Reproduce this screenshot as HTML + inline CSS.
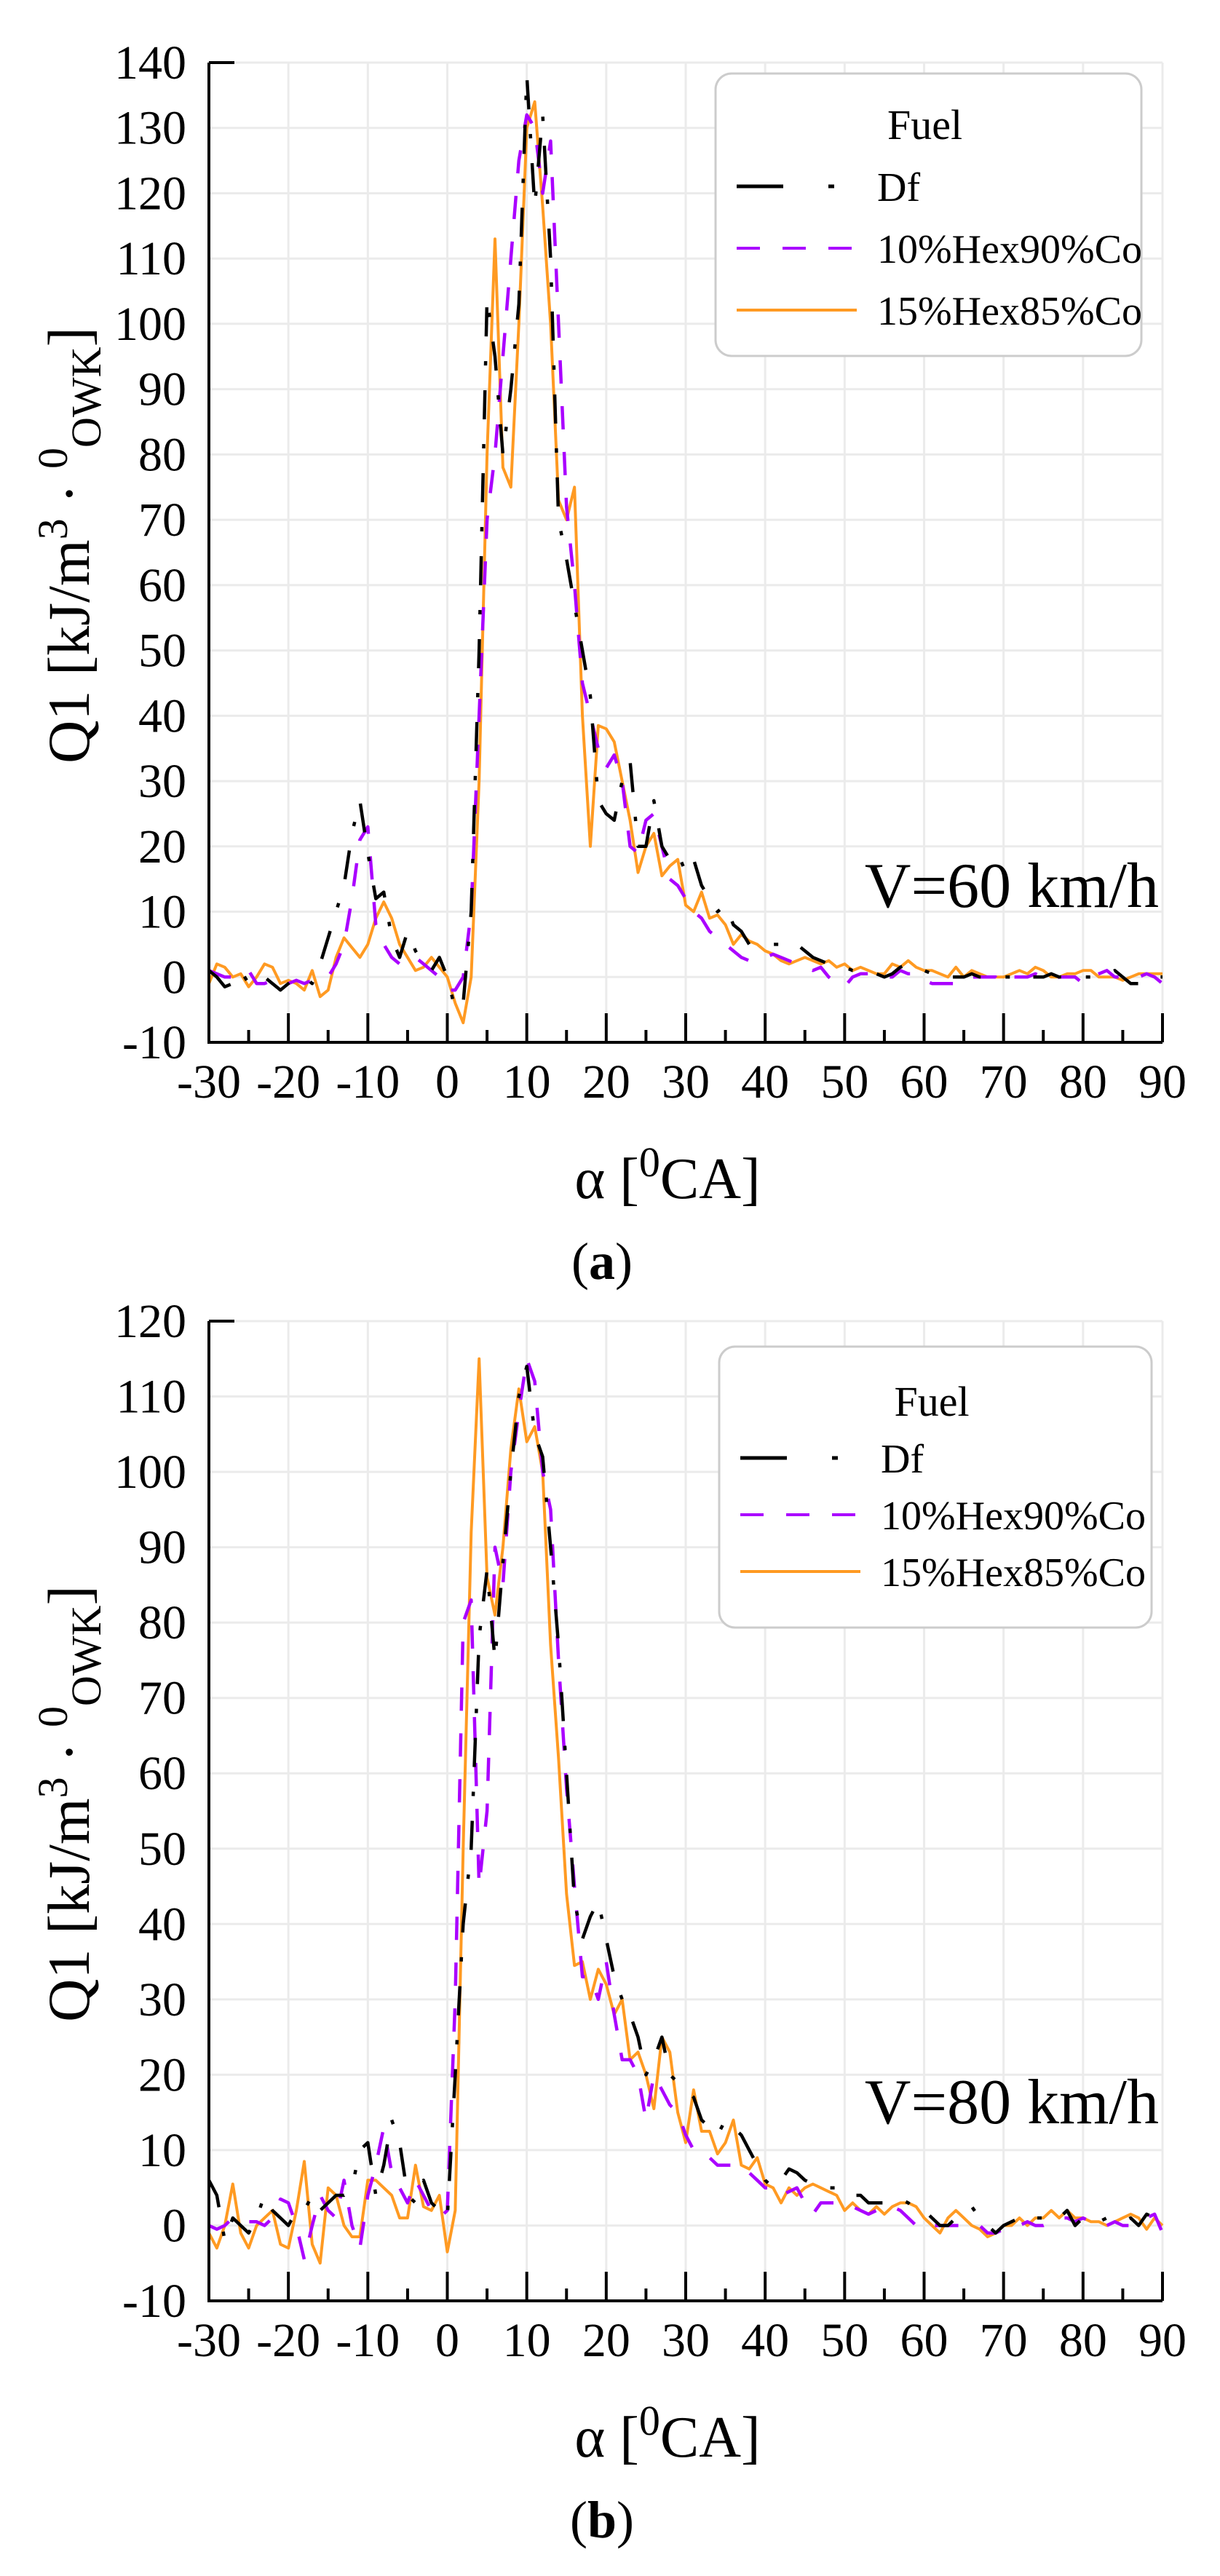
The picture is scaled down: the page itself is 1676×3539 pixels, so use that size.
<!DOCTYPE html>
<html><head><meta charset="utf-8"><style>
html,body{margin:0;padding:0;background:#fff;}
svg{display:block;}
text{font-family:"Liberation Serif",serif;}
</style></head><body>
<svg id="s" width="1676" height="3539" viewBox="0 0 1676 3539" xmlns="http://www.w3.org/2000/svg"></svg>
<script>
const NS="http://www.w3.org/2000/svg";
const S=document.getElementById('s');
function el(t,a,txt){const e=document.createElementNS(NS,t);if(t==='text')e.setAttribute('font-family','Liberation Serif, serif');for(const k in a)e.setAttribute(k,a[k]);if(txt!==undefined)e.textContent=txt;S.appendChild(e);return e;}
function arr(start,vals){return vals.map((v,i)=>[start+i,v]).filter(p=>p[0]<=90);}
const A={
bk:arr(-30,[1,0,-1.5,-1,1,-1,-1,0,-1,-2,-1,0,0,-1,2,6,10,14,22,27,19,12,13,6,3,7,4,2,1,3,0,-5,-4,10,50,104,95,80,90,103,138,118,132,110,70,64,57,50,43,27,25,24,30,33,20,20,27,20,18,19,16,18,14,12,10,11,8,7,5,5,5,5,5,5.5,5,4,3,2.5,2,2,1.5,1,1,0.5,0.5,0,0.5,1.5,2,1.5,1,0.5,0.5,0,0,0,0.5,0,0,0,0,0,0.5,0,0,0,0.5,0,0,0,0,0,0,0.5,1,0,-1,-1,-1,0,0,0.5,0]),
pu:arr(-30,[1,0.5,0,0,0,1,-1,-1,-0.5,-1,-1,-0.5,-1,-0.5,0,0,2,5,12,21,23,8,5,3,2,3,3,2,1,0,-2,-2,0,10,40,70,80,95,110,125,132,130,120,128,100,72,60,45,40,35,32,34,30,20,19,24,25,20,15,14,12,10,9,7,6,5,4,3,2.5,3,3,3.5,3,2.5,2,1.5,1,1.5,0,-1,-1.5,0,0.5,0.5,0,0,0,1,0.5,0.5,-0.5,-1,-1,-1,-1,0,0,0,0,0,-1,0,0,0,0.5,0,-0.5,0,0,0,-1,0,0.5,1,0,0,0,0,0.5,0,-1]),
or:arr(-30,[-1,2,1.5,0,0.5,-1.5,0,2,1.5,-1,-0.5,-1,-2,1,-3,-2,3,6,4.5,3,5,9,11.5,9,5,3,1,1.5,3,1.5,0,-4,-7,0,30,80,113,78,75,100,130,134,118,100,73,70,75,40,20,38.5,38,36,30,24,16,20,22,15.5,17,18,11,10,13,9,9.5,8,5,6.5,5.5,5,4,3.5,2.5,2,2.5,3,2.5,2,2.5,1.5,2,1,1.5,1,0.5,0.5,2,1.5,2.5,1.5,1,1,0.5,0,1.5,0,1,0.5,0,0,0,0.5,1,0.5,1.5,1,0,0,0.5,0.5,1,1,0,0,0,-0.5,0,0.5,0.5,0.5,0.5])
};
const B={
bk:arr(-30,[6,4,-2,1,0,-1,1,4,2,1,0,2,2,4,2,3,4,4,5,10,11,4,8,14,11,4,3,6,3,2,1,20,40,50,78,87,75,88,100,110,114,105,102,90,77,60,43,38,41,43,38,33,30,28,25,20,22,25,20,19,18,17,14,13,12,14,13,12,10,8,6,5,6,7.5,7,6,5.5,5,5,5,5,4,4,3,3,3,3,3.5,3,2,2,1,0,0,1,2,2.5,1,0,-1,0,0.5,1,0.5,1,1,1.5,1,2,0,1,1,0.5,1,0.5,0.5,1,0,1.5,1,2]),
pu:arr(-30,[0,-0.5,0,1,0.5,0.5,0.5,0,1,3.5,3,0,-4.5,0,4,2,1,6,0,-3,4,8,13,7,5,3,6,4,2,1,2,30,80,83,45,55,90,85,100,108,115,112,100,95,75,58,45,33,33,30,35,28,22,22,20,14,20,18,16,15,12,10,10,9,8,8,8,7,7,6,5,5,4,4.5,5,3,1.5,3,3,3,2.5,2.5,2,1.5,2,2.5,2.5,2,1,0,-0.5,0,0,0,0,0,0,0,-1,-1,-0.5,0,0,0.5,0,0,0.5,1,1,0.5,1,0.5,0.5,0,0.5,0,0,0.5,1,1.5,-1,0,-1]),
or:arr(-30,[-1,-3,0,5.5,-1,-3,0,1,2,-2.5,-3,2,8.5,-2.5,-5,5,4,0,-1.5,-1.5,6,6,5,4,1,1,8,2.5,2,4,-3.5,2,50,92,115,86,81,90,103,111,104,106,100,77,62,44,34.5,35,30,34,32,28,30,22,23,20,15.5,25,23,15,11,18,12.5,12.5,9.5,11,14,8,7.5,9,5.5,5,3,5,4,5,5.5,5,4.5,4,2,3,2,1.5,2.5,1.5,2.5,3,3,2.5,1,0,-1,1,2,1,0,-0.5,-1.5,-1,0,0,1,0,1,1,2,1,2,1,1,0.5,0.5,0,0.5,1,1.5,1,-0.5,1,0])
};
function chart(o){
 const L=287,R=1597,T=o.top,Bt=o.bot,ymin=-10,ymax=o.ymax;
 const X=x=>L+(x+30)/120*(R-L), Y=y=>Bt-(y-ymin)/(ymax-ymin)*(Bt-T);
 for(let x=-20;x<=90;x+=10) el('line',{x1:X(x),x2:X(x),y1:T,y2:Bt,stroke:'#ebebeb','stroke-width':3});
 for(let y=0;y<=ymax;y+=10) el('line',{x1:L,x2:R,y1:Y(y),y2:Y(y),stroke:'#ebebeb','stroke-width':3});
 const path=(d,attrs)=>{let s=d.map((p,i)=>(i?'L':'M')+X(p[0]).toFixed(1)+' '+Y(p[1]).toFixed(1)).join('');el('path',Object.assign({d:s,fill:'none','stroke-linejoin':'round'},attrs));};
 path(o.d.or,{stroke:'#ff9a22','stroke-width':4});
 path(o.d.pu,{stroke:'#aa00ff','stroke-width':4.5,'stroke-dasharray':'32 31'});
 path(o.d.bk,{stroke:'#000','stroke-width':4.5,'stroke-dasharray':'40 34 6 34'});
 el('path',{d:`M${L} ${T}H${L+35}M${L} ${T}V${Bt}H${R}`,fill:'none',stroke:'#000','stroke-width':4});
 for(let x=-30;x<=90;x+=5){const h=(x%10==0)?40:17;el('line',{x1:X(x),x2:X(x),y1:Bt,y2:Bt-h,stroke:'#000','stroke-width':4});}
 for(let y=-10;y<=ymax;y+=10) el('text',{x:256,y:Y(y)+22,'font-size':66,'text-anchor':'end'},String(y));
 for(let x=-30;x<=90;x+=10) el('text',{x:X(x),y:Bt+76,'font-size':66,'text-anchor':'middle'},String(x));
 const t=el('text',{x:917,y:Bt+214,'font-size':80,'text-anchor':'middle'});
 t.innerHTML='α [<tspan dy="-30" font-size="58">0</tspan><tspan dy="30">CA]</tspan>';
 const yl=el('text',{x:0,y:0,'font-size':82,'text-anchor':'middle',transform:`translate(122 ${(T+Bt)/2-10}) rotate(-90)`});
 yl.innerHTML='Q1 [kJ/m<tspan dy="-30" font-size="58">3</tspan><tspan dy="30"> · </tspan><tspan dy="-30" font-size="58">0</tspan><tspan dy="46" font-size="58">OWK</tspan><tspan dy="-16">]</tspan>';
 const c=el('text',{x:827,y:Bt+325,'font-size':72,'text-anchor':'middle'});
 c.innerHTML='(<tspan font-weight="bold">'+o.lab+'</tspan>)';
 el('text',{x:1592,y:o.vy,'font-size':88,'text-anchor':'end'},o.v);
 const g=o.lg;
 el('rect',{x:g.x,y:g.y,width:g.w,height:g.h,rx:22,fill:'#fff',stroke:'#cccccc','stroke-width':3});
 el('text',{x:g.x+g.w/2-5,y:g.y+g.s0,'font-size':58,'text-anchor':'middle'},'Fuel');
 const ys=[g.y+g.s0+g.sp,g.y+g.s0+2*g.sp,g.y+g.s0+3*g.sp];
 el('line',{x1:g.x+29,x2:g.x+93,y1:ys[0]-20,y2:ys[0]-20,stroke:'#000','stroke-width':5});
 el('line',{x1:g.x+155,x2:g.x+163,y1:ys[0]-20,y2:ys[0]-20,stroke:'#000','stroke-width':5});
 el('line',{x1:g.x+29,x2:g.x+194,y1:ys[1]-20,y2:ys[1]-20,stroke:'#aa00ff','stroke-width':4,'stroke-dasharray':'32 31'});
 el('line',{x1:g.x+29,x2:g.x+194,y1:ys[2]-20,y2:ys[2]-20,stroke:'#ff9a22','stroke-width':4});
 ['Df','10%Hex90%Co','15%Hex85%Co'].forEach((s,i)=>el('text',{x:g.x+222,y:ys[i],'font-size':56},s));
}
chart({top:86,bot:1432,ymax:140,d:A,lab:'a',v:'V=60 km/h',vy:1246,lg:{x:983,y:101,w:585,h:388,s0:90,sp:85}});
chart({top:1815,bot:3161,ymax:120,d:B,lab:'b',v:'V=80 km/h',vy:2917,lg:{x:988,y:1850,w:594,h:386,s0:95,sp:78}});
</script>
</body></html>
